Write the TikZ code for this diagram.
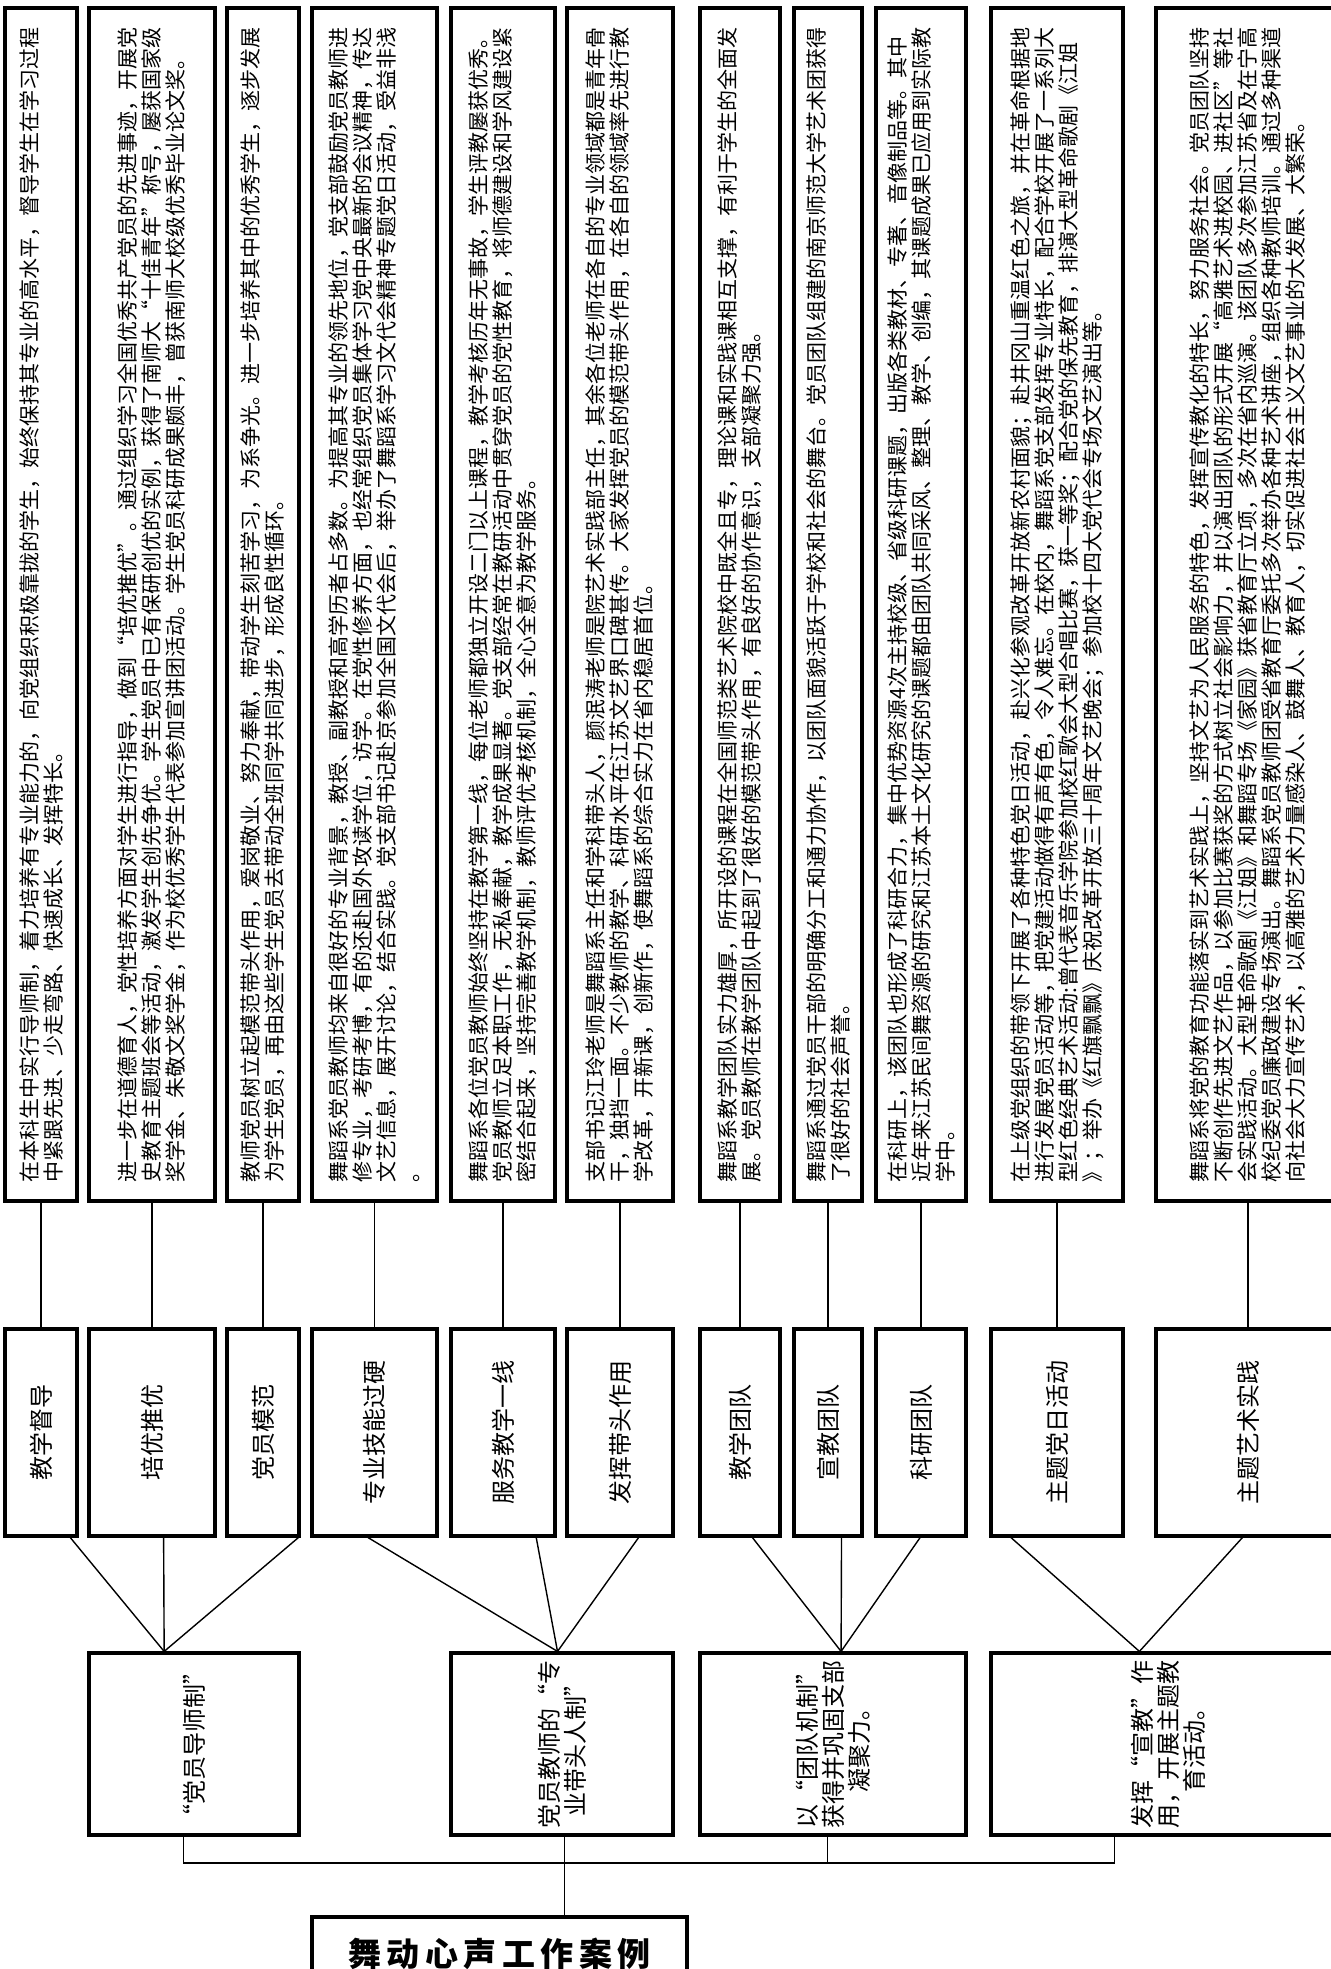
\documentclass[tikz,border=0pt]{standalone}
\usepackage{fontspec}
\setmainfont{Noto Sans CJK SC}
\usetikzlibrary{positioning, calc}

\begin{document}
\begin{tikzpicture}[
    x=0.5pt, y=-0.5pt,
    box/.style={rectangle, draw, line width=1.6pt, rotate=90, inner sep=1pt},
    detail/.style={box, minimum width=596.5pt, align=left, font=\fontsize{10.5pt}{12pt}\selectfont},
    item/.style={box, minimum width=103.5pt, font=\fontsize{12pt}{13pt}\selectfont},
    branch/.style={box, minimum width=91pt, align=center, font=\fontsize{12pt}{13pt}\selectfont},
    rootbox/.style={rectangle, draw, line width=1.6pt, minimum width=187.5pt, minimum height=36.5pt, font=\fontsize{16.5pt}{18pt}\selectfont\bfseries},
    link/.style={line width=0.7pt},
]
\useasboundingbox (0,0) rectangle (1330,1969);

% details
\node[detail, minimum height=36pt] (d1) at (41,604.5) {在本科生中实行导师制，着力培养有专业能力的，向党组织积极靠拢的学生，始终保持其专业的高水平，督导学生在学习过程\\中紧跟先进、少走弯路、快速成长、发挥特长。};
\node[detail, minimum height=63pt] (d2) at (152,604.5) {进一步在道德育人，党性培养方面对学生进行指导，做到“培优推优”。通过组织学习全国优秀共产党员的先进事迹，开展党\\史教育主题班会等活动，激发学生创先争优。学生党员中已有保研创优的实例，获得了南师大“十佳青年”称号，屡获国家级\\奖学金、朱敬文奖学金，作为校优秀学生代表参加宣讲团活动。学生党员科研成果颇丰，曾获南师大校级优秀毕业论文奖。};
\node[detail, minimum height=36pt] (d3) at (263,604.5) {教师党员树立起模范带头作用，爱岗敬业、努力奉献，带动学生刻苦学习，为系争光。进一步培养其中的优秀学生，逐步发展\\为学生党员，再由这些学生党员去带动全班同学共同进步，形成良性循环。};
\node[detail, minimum height=62.5pt] (d4) at (374.5,604.5) {舞蹈系党员教师均来自很好的专业背景，教授、副教授和高学历者占多数。为提高其专业的领先地位，党支部鼓励党员教师进\\修专业，考研考博，有的还赴国外攻读学位，访学。在党性修养方面，也经常组织党员集体学习党中央最新的会议精神，传达\\文艺信息，展开讨论，结合实践。党支部书记赴京参加全国文代会后，举办了舞蹈系学习文代会精神专题党日活动，受益非浅\\。};
\node[detail, minimum height=52pt] (d5) at (503,604.5) {舞蹈系各位党员教师始终坚持在教学第一线，每位老师都独立开设二门以上课程，教学考核历年无事故，学生评教屡获优秀。\\党员教师立足本职工作，无私奉献，教学成果显著。党支部经常在教研活动中贯穿党员的党性教育，将师德建设和学风建设紧\\密结合起来，坚持完善教学机制，教师评优考核机制，全心全意为教学服务。};
\node[detail, minimum height=53pt] (d6) at (620,604.5) {支部书记江玲老师是舞蹈系主任和学科带头人，颜泯涛老师是院艺术实践部主任，其余各位老师在各自的专业领域都是青年骨\\干，独挡一面。不少教师的教学、科研水平在江苏文艺界口碑甚传。大家发挥党员的模范带头作用，在各自的领域率先进行教\\学改革，开新课，创新作，使舞蹈系的综合实力在省内稳居首位。};
\node[detail, minimum height=40pt] (d7) at (740,604.5) {舞蹈系教学团队实力雄厚，所开设的课程在全国师范类艺术院校中既全且专，理论课和实践课相互支撑，有利于学生的全面发\\展。党员教师在教学团队中起到了很好的模范带头作用，有良好的协作意识，支部凝聚力强。};
\node[detail, minimum height=34pt] (d8) at (828,604.5) {舞蹈系通过党员干部的明确分工和通力协作，以团队面貌活跃于学校和社会的舞台。党员团队组建的南京师范大学艺术团获得\\了很好的社会声誉。};
\node[detail, minimum height=45pt] (d9) at (921,604.5) {在科研上，该团队也形成了科研合力，集中优势资源4次主持校级、省级科研课题，出版各类教材、专著、音像制品等。其中\\近年来江苏民间舞资源的研究和江苏本土文化研究的课题都由团队共同采风、整理、教学、创编，其课题成果已应用到实际教\\学中。};
\node[detail, minimum height=66pt] (d10) at (1057,604.5) {在上级党组织的带领下开展了各种特色党日活动，赴兴化参观改革开放新农村面貌；赴井冈山重温红色之旅，并在革命根据地\\进行发展党员活动等，把党建活动做得有声有色，令人难忘。在校内，舞蹈系党支部发挥专业特长，配合学校开展了一系列大\\型红色经典艺术活动:曾代表音乐学院参加校红歌会大型合唱比赛，获一等奖；配合党的保先教育，排演大型革命歌剧《江姐\\》；举办《红旗飘飘》庆祝改革开放三十周年文艺晚会；参加校十四大党代会专场文艺演出等。};
\node[detail, minimum height=92pt] (d11) at (1248,604.5) {舞蹈系将党的教育功能落实到艺术实践上，坚持文艺为人民服务的特色，发挥宣传教化的特长，努力服务社会。党员团队坚持\\不断创作先进文艺作品，以参加比赛获奖的方式树立社会影响力，并以演出团队的形式开展“高雅艺术进校园、进社区”等社\\会实践活动。大型革命歌剧《江姐》和舞蹈专场《家园》获省教育厅立项，多次在省内巡演。该团队多次参加江苏省及在宁高\\校纪委党员廉政建设专场演出。舞蹈系党员教师团受省教育厅委托多次举办各种艺术讲座，组织各种教师培训。通过多种渠道\\向社会大力宣传艺术，以高雅的艺术力量感染人、鼓舞人、教育人，切实促进社会主义文艺事业的大发展、大繁荣。};

% items
\node[item, minimum height=36pt] (s1) at (41,1432.5) {教学督导};
\node[item, minimum height=63pt] (s2) at (152,1432.5) {培优推优};
\node[item, minimum height=36pt] (s3) at (263,1432.5) {党员模范};
\node[item, minimum height=62.5pt] (s4) at (374.5,1432.5) {专业技能过硬};
\node[item, minimum height=52pt] (s5) at (503,1432.5) {服务教学一线};
\node[item, minimum height=53pt] (s6) at (620,1432.5) {发挥带头作用};
\node[item, minimum height=40pt] (s7) at (740,1432.5) {教学团队};
\node[item, minimum height=34pt] (s8) at (828,1432.5) {宣教团队};
\node[item, minimum height=45pt] (s9) at (921,1432.5) {科研团队};
\node[item, minimum height=66pt] (s10) at (1057,1432.5) {主题党日活动};
\node[item, minimum height=92pt] (s11) at (1248,1432.5) {主题艺术实践};

% branches
\node[branch, minimum height=105pt] (m1) at (194,1744) {“党员导师制”};
\node[branch, minimum height=111pt] (m2) at (562,1744) {党员教师的“专\\业带头人制”};
\node[branch, minimum height=133pt] (m3) at (833,1744) {以“团队机制”\\获得并巩固支部\\凝聚力。};
\node[branch, minimum height=177pt] (m4) at (1168,1744) {发挥“宣教”作\\用，开展主题教\\育活动。};

\node[rootbox] (root) at (499.5,1953.5) {舞\,动\,心\,声\,工\,作\,案\,例};

% details to items
\draw[link] (d1.west) -- (s1.east);
\draw[link] (d2.west) -- (s2.east);
\draw[link] (d3.west) -- (s3.east);
\draw[link] (d4.west) -- (s4.east);
\draw[link] (d5.west) -- (s5.east);
\draw[link] (d6.west) -- (s6.east);
\draw[link] (d7.west) -- (s7.east);
\draw[link] (d8.west) -- (s8.east);
\draw[link] (d9.west) -- (s9.east);
\draw[link] (d10.west) -- (s10.east);
\draw[link] (d11.west) -- (s11.east);

% items to branches
\path ($(m1.north east)!0.36!(m1.south east)$) coordinate (t1)
      ($(m2.north east)!0.48!(m2.south east)$) coordinate (t2)
      ($(m3.north east)!0.53!(m3.south east)$) coordinate (t3)
      ($(m4.north east)!0.42!(m4.south east)$) coordinate (t4);
\draw[link] (t1) -- ($(s1.north west)!0.89!(s1.south west)$);
\draw[link] (t1) -- ($(s2.north west)!0.59!(s2.south west)$);
\draw[link] (t1) -- ($(s3.north west)!0.97!(s3.south west)$);
\draw[link] (t2) -- ($(s4.north west)!0.45!(s4.south west)$);
\draw[link] (t2) -- ($(s5.north west)!0.81!(s5.south west)$);
\draw[link] (t2) -- ($(s6.north west)!0.67!(s6.south west)$);
\draw[link] (t3) -- ($(s7.north west)!0.65!(s7.south west)$);
\draw[link] (t3) -- ($(s8.north west)!0.69!(s8.south west)$);
\draw[link] (t3) -- ($(s9.north west)!0.49!(s9.south west)$);
\draw[link] (t4) -- ($(s10.north west)!0.16!(s10.south west)$);
\draw[link] (t4) -- ($(s11.north west)!0.47!(s11.south west)$);

% branches to root
\coordinate (bus) at (0,1863);
\path ($(m1.north west)!0.45!(m1.south west)$) coordinate (f1)
      ($(m2.north west)!0.51!(m2.south west)$) coordinate (f2)
      ($(m3.north west)!0.48!(m3.south west)$) coordinate (f3)
      ($(m4.north west)!0.35!(m4.south west)$) coordinate (f4);
\draw[link] (f1) |- (f4 |- bus) -- (f4);
\draw[link] (f3) -- (f3 |- bus);
\draw[link] (f2) -- (f2 |- root.north);

\end{tikzpicture}
\end{document}
